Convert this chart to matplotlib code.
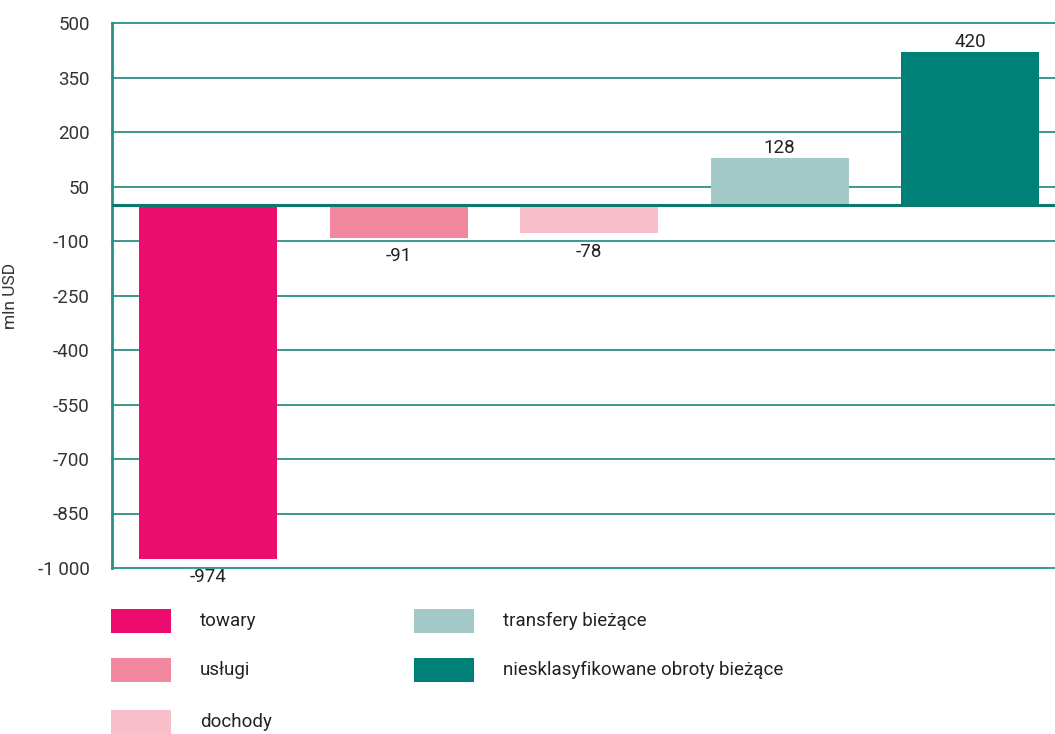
import matplotlib
matplotlib.use("Agg")
import matplotlib.pyplot as plt
from matplotlib.patches import Rectangle

categories = ["towary", "usługi", "dochody", "transfery bieżące", "niesklasyfikowane obroty bieżące"]
values = [-974, -91, -78, 128, 420]
colors = ["#EB0C6E", "#F2889E", "#F8BFCA", "#A3C9C8", "#008177"]
yticks = [500, 350, 200, 50, -100, -250, -400, -550, -700, -850, -1000]
ytick_labels = ["500", "350", "200", "50", "-100", "-250", "-400", "-550", "-700", "-850", "-1 000"]

plt.rcParams['font.family'] = ['Roboto', 'DejaVu Sans']
W, H = 1055, 734
fig = plt.figure(figsize=(W / 100, H / 100), dpi=100)
ax = fig.add_axes([112 / W, 1 - 568 / H, 1 - 112 / W, (568 - 23) / H])

grid_c = "#2E8F84"
x = list(range(len(values)))
ax.bar(x, values, width=0.725, color=colors, zorder=3)
ax.set_xlim(-0.505, 4.445)
ax.set_ylim(-1000, 500)
ax.set_yticks(yticks)
ax.set_yticklabels(ytick_labels)
ax.set_xticks([])
for t in yticks:
    ax.axhline(t, color=grid_c, lw=1.3, zorder=1, clip_on=False)
ax.axhline(0, color="#0B7A6E", lw=2.2, zorder=4)
for s in ["top", "right", "bottom"]:
    ax.spines[s].set_visible(False)
ax.spines["left"].set_color(grid_c)
ax.spines["left"].set_linewidth(2)
ax.tick_params(axis="y", length=0, pad=16, labelsize=13.5, labelcolor="#333333")
ax.set_ylabel("mln USD", fontsize=12.5, color="#333333")
ax.yaxis.set_label_coords(-0.1, 0.5)

for xi, v in zip(x, values):
    if v < 0:
        ax.annotate(str(v), (xi, v), xytext=(0, -7), textcoords="offset points",
                    ha="center", va="top", fontsize=13.5, color="#222222")
    else:
        ax.annotate(str(v), (xi, v), xytext=(0, 1), textcoords="offset points",
                    ha="center", va="bottom", fontsize=13.5, color="#222222")

# legend (column-major: 3 items in first column, 2 in second)
col_x = [111, 414]
row_y = [621, 670, 722]
for i, (cat, c) in enumerate(zip(categories, colors)):
    col = 0 if i < 3 else 1
    row = i if i < 3 else i - 3
    px, py = col_x[col], row_y[row]
    fig.add_artist(Rectangle((px / W, 1 - (py + 12) / H), 60 / W, 24 / H,
                             transform=fig.transFigure, color=c, lw=0))
    fig.text((px + 89) / W, 1 - py / H, cat, ha="left", va="center",
             fontsize=13.5, color="#222222")

fig.savefig("out.png", dpi=100)
